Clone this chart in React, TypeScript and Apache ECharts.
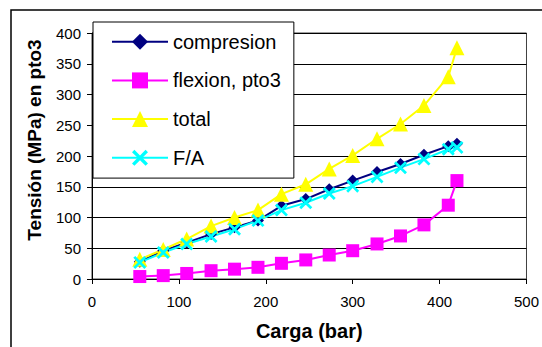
import React, { useEffect, useRef } from "react";
import * as echarts from "echarts";

const carga = [55, 82, 109, 137, 164, 191, 218, 246, 273, 300, 328, 355, 382, 410, 420];
const compresion = [28, 46, 59, 73, 84, 95, 119, 130, 146, 160, 174, 187, 202, 216, 220];
const flexion = [4, 5.5, 9, 13.5, 16, 19, 25.5, 31, 39, 46, 57, 70, 88, 120, 160];
const total = [32, 48, 65, 86, 100, 112, 138, 154, 179, 201, 228, 252, 282, 329, 376];
const fa = [27, 43, 57, 69, 81, 95, 112, 124, 139, 151, 166, 181, 195, 211, 214];

const xTicks = { min: 0, max: 500, interval: 100 };
const yTicks = { min: 0, max: 400, interval: 50 };

const FONT = "'Liberation Sans', Arial, sans-serif";
const CROSS = "path://M0,1.5 L1.5,0 L5,3.5 L8.5,0 L10,1.5 L6.5,5 L10,8.5 L8.5,10 L5,6.5 L1.5,10 L0,8.5 L3.5,5 Z";

const pairs = (ys: number[]) => carga.map((x, i) => [x, ys[i]]);

export default function App() {
  const ref = useRef<HTMLDivElement>(null);
  useEffect(() => {
    if (!ref.current) return;
    const chart = echarts.init(ref.current, null, { renderer: "svg" });
    const mk = (name: string, data: number[], color: string, symbol: string, size: number) => ({
      name,
      type: "line",
      data: pairs(data),
      symbol,
      symbolSize: size,
      lineStyle: { color, width: 2 },
      itemStyle: { color },
      emphasis: { disabled: true },
    });
    chart.setOption({
      animation: false,
      backgroundColor: "#fff",
      textStyle: { fontFamily: FONT },
      grid: {
        left: 92,
        right: 15,
        top: 33,
        bottom: 68,
        show: true,
        borderColor: "#404040",
        borderWidth: 1,
        backgroundColor: "#fff",
      },
      graphic: [
        {
          type: "rect",
          z: 100,
          silent: true,
          shape: { x: 11, y: 10, width: 600, height: 400 },
          style: { fill: "none", stroke: "#000", lineWidth: 1.5 },
        },
        {
          type: "text",
          x: 34.5,
          y: 140,
          rotation: Math.PI / 2,
          style: {
            text: "Tensión (MPa) en pto3",
            font: `bold 19px ${FONT}`,
            fill: "#000",
            textAlign: "center",
            textVerticalAlign: "middle",
          },
        },
      ],
      legend: {
        orient: "vertical",
        left: 93,
        top: 22,
        padding: [9.7, 13, 10.3, 18],
        itemGap: 18.7,
        itemWidth: 56,
        itemHeight: 20,
        backgroundColor: "#fff",
        borderColor: "#000",
        borderWidth: 1,
        textStyle: { fontSize: 20, color: "#000", fontFamily: FONT },
        data: ["compresion", "flexion, pto3", "total", "F/A"],
      },
      xAxis: {
        type: "value",
        ...xTicks,
        name: "Carga (bar)",
        nameLocation: "middle",
        nameGap: 42,
        nameTextStyle: { fontSize: 20, fontWeight: "bold", color: "#000", fontFamily: FONT },
        splitLine: { show: false },
        axisLine: { lineStyle: { color: "#000", width: 1 } },
        axisTick: { show: true, length: 5, lineStyle: { color: "#000" } },
        axisLabel: { fontSize: 15, color: "#000", margin: 15, fontFamily: FONT },
      },
      yAxis: {
        type: "value",
        ...yTicks,
        splitLine: { show: true, lineStyle: { color: "#000", width: 1 } },
        axisLine: { show: true, lineStyle: { color: "#000", width: 1 } },
        axisTick: { show: true, length: 5, lineStyle: { color: "#000" } },
        axisLabel: { fontSize: 15, color: "#000", margin: 11, fontFamily: FONT },
      },
      series: [
        mk("compresion", compresion, "#000080", "diamond", 12),
        mk("flexion, pto3", flexion, "#FF00FF", "rect", 13),
        mk("total", total, "#FFFF00", "triangle", 15),
        mk("F/A", fa, "#00FFFF", CROSS, 13),
      ],
    });
    return () => chart.dispose();
  }, []);
  return (
    <div
      ref={ref}
      style={{ position: "fixed", left: 0, top: 0, width: 542, height: 347 }}
    />
  );
}
